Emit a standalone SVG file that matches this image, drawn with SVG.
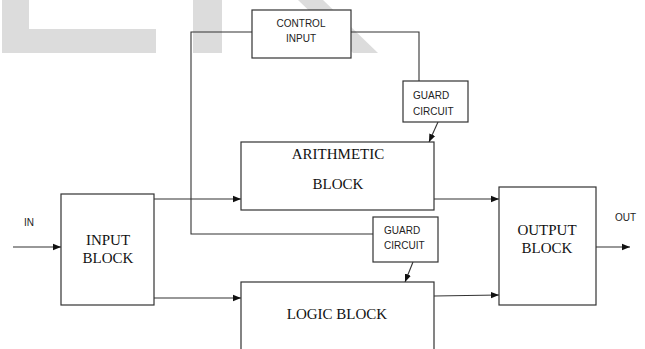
<svg xmlns="http://www.w3.org/2000/svg" width="645" height="349" viewBox="0 0 645 349">
<defs>
<marker id="ah" markerWidth="8" markerHeight="8" refX="8" refY="4" orient="auto" markerUnits="userSpaceOnUse">
<path d="M0,0.8 L8,4 L0,7.2 Z" fill="#111"/>
</marker>
<style>
.box{fill:#fff;stroke:#333;stroke-width:1.2}
.ln{fill:none;stroke:#333;stroke-width:1.1}
.big{font-family:"Liberation Serif","Times New Roman",serif;font-size:15px;fill:#111;text-anchor:middle}
.sm{font-family:"Liberation Sans",Arial,sans-serif;font-size:10px;fill:#222}
.wm{fill:#dcdcdc}
</style>
</defs>
<rect width="645" height="349" fill="#fff"/>
<g id="watermark">
<path class="wm" d="M2,0 H29 V29 H156 V53 H2 Z"/>
<rect class="wm" x="193" y="0" width="29" height="53"/>
<path class="wm" d="M298,0 H323 L378,53 H353 Z"/>
</g>
<g id="connectors">
<polyline class="ln" points="252,32 191,32 191,234 373,234"/>
<polyline class="ln" points="351,32 419,32 419,81"/>
<line class="ln" x1="438" y1="122" x2="429" y2="142" marker-end="url(#ah)"/>
<line class="ln" x1="413" y1="262" x2="405" y2="282" marker-end="url(#ah)"/>
<line class="ln" x1="13" y1="247" x2="61" y2="247" marker-end="url(#ah)"/>
<line class="ln" x1="154" y1="199" x2="241" y2="199" marker-end="url(#ah)"/>
<line class="ln" x1="154" y1="298" x2="241" y2="298" marker-end="url(#ah)"/>
<line class="ln" x1="434" y1="199" x2="499" y2="199" marker-end="url(#ah)"/>
<line class="ln" x1="434" y1="296" x2="499" y2="295" marker-end="url(#ah)"/>
<line class="ln" x1="596" y1="247" x2="630" y2="247" marker-end="url(#ah)"/>
</g>
<g id="control-input">
<rect class="box" x="252" y="10" width="99" height="48"/>
<text class="sm" x="301" y="27" text-anchor="middle">CONTROL</text>
<text class="sm" x="301" y="42" text-anchor="middle">INPUT</text>
</g>
<g id="guard-circuit-1">
<rect class="box" x="403" y="81" width="65" height="41"/>
<text class="sm" x="413" y="99">GUARD</text>
<text class="sm" x="413" y="115">CIRCUIT</text>
</g>
<g id="arithmetic-block">
<rect class="box" x="241" y="142" width="193" height="68"/>
<text class="big" x="338" y="159">ARITHMETIC</text>
<text class="big" x="338" y="189">BLOCK</text>
</g>
<g id="guard-circuit-2">
<rect class="box" x="373" y="217" width="65" height="45"/>
<text class="sm" x="384" y="234">GUARD</text>
<text class="sm" x="384" y="249">CIRCUIT</text>
</g>
<g id="logic-block">
<rect class="box" x="241" y="282" width="193" height="80"/>
<text class="big" x="337" y="319">LOGIC BLOCK</text>
</g>
<g id="input-block">
<rect class="box" x="61" y="194" width="93" height="111"/>
<text class="big" x="108" y="245">INPUT</text>
<text class="big" x="108" y="263">BLOCK</text>
</g>
<g id="output-block">
<rect class="box" x="499" y="187" width="97" height="118"/>
<text class="big" x="547" y="235">OUTPUT</text>
<text class="big" x="547" y="253">BLOCK</text>
</g>
<g id="labels">
<text class="sm" x="24" y="226">IN</text>
<text class="sm" x="615" y="221">OUT</text>
</g>
</svg>
